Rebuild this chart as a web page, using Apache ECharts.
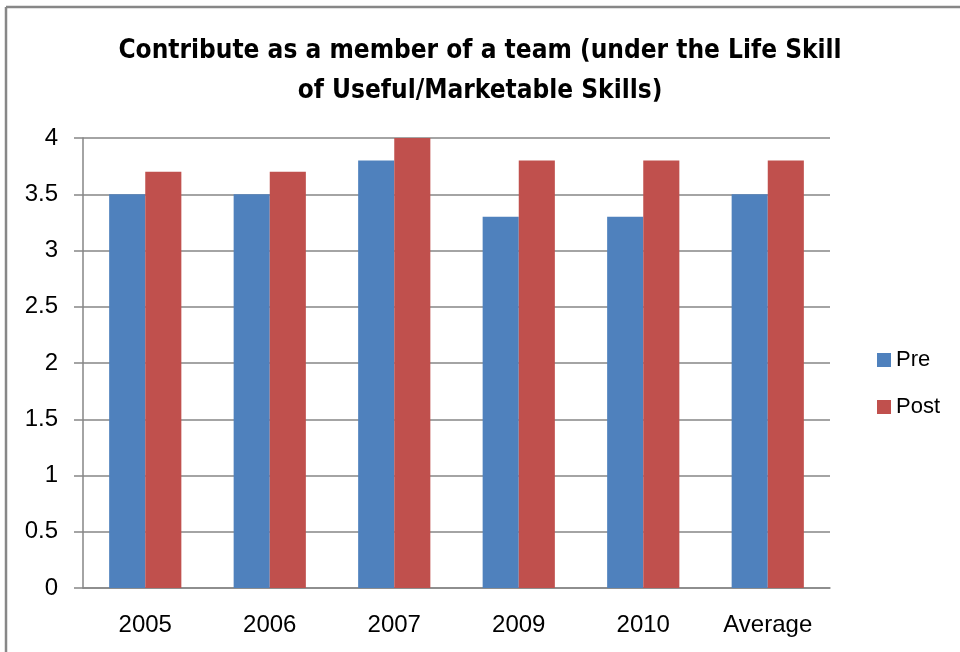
<!DOCTYPE html>
<html>
<head>
    <meta charset="utf-8">
    <title>Contribute as a member of a team</title>
    <script src="https://cdn.jsdelivr.net/npm/echarts@6.0.0/dist/echarts.min.js"></script>
    <style>
        html, body { margin: 0; padding: 0; background: #fff; }
        #chart { width: 960px; height: 652px; }
    </style>
</head>
<body>
    <div id="chart"></div>

    <script>
        // data
        const categories = ['2005', '2006', '2007', '2009', '2010', 'Average'];
        const preValues = [3.5, 3.5, 3.8, 3.3, 3.3, 3.5];
        const postValues = [3.7, 3.7, 4.0, 3.8, 3.8, 3.8];
        const titleText = 'Contribute as a member of a team (under the Life Skill\nof Useful/Marketable Skills)';

        const labelFont = '"Liberation Sans", Arial, sans-serif';
        const gridColor = '#868686';

        const myChart = echarts.init(document.getElementById('chart'));

        myChart.setOption({
            animation: false,
            backgroundColor: '#fff',
            title: {
                text: titleText,
                left: 'center',
                top: 26,
                textStyle: {
                    fontFamily: '"Liberation Sans Narrow", "DejaVu Sans Condensed", sans-serif',
                    fontWeight: 'bold',
                    fontSize: 26,
                    lineHeight: 40,
                    color: '#000'
                }
            },
            legend: {
                orient: 'vertical',
                left: 872,
                top: 344,
                itemWidth: 14,
                itemHeight: 14,
                itemGap: 25,
                icon: 'rect',
                textStyle: { fontFamily: labelFont, fontSize: 22, color: '#000' },
                data: ['Pre', 'Post']
            },
            grid: { left: 83, top: 138, right: 130, bottom: 64, containLabel: false },
            xAxis: {
                type: 'category',
                data: categories,
                axisLine: { lineStyle: { color: gridColor, width: 1.5 } },
                axisTick: { length: 9, lineStyle: { color: gridColor, width: 1.5 } },
                axisLabel: { fontFamily: labelFont, fontSize: 24, color: '#000', margin: 25 }
            },
            yAxis: {
                type: 'value',
                min: 0,
                max: 4,
                interval: 0.5,
                axisLine: { show: true, lineStyle: { color: gridColor, width: 1.5 } },
                axisTick: { show: true, length: 9, lineStyle: { color: gridColor, width: 1.5 } },
                axisLabel: { fontFamily: labelFont, fontSize: 24, color: '#000', margin: 25 },
                splitLine: { lineStyle: { color: gridColor, width: 1.5 } }
            },
            series: [
                {
                    name: 'Pre',
                    type: 'bar',
                    data: preValues,
                    barGap: '0%',
                    barCategoryGap: '42%',
                    itemStyle: { color: '#4F81BD' }
                },
                {
                    name: 'Post',
                    type: 'bar',
                    data: postValues,
                    barGap: '0%',
                    barCategoryGap: '42%',
                    itemStyle: { color: '#C0504D' }
                }
            ],
            graphic: [
                // outer frame, only top and left edges are visible in the picture
                { type: 'line', shape: { x1: 6, y1: 7, x2: 960, y2: 7 }, style: { stroke: '#878787', lineWidth: 2.5 } },
                { type: 'line', shape: { x1: 6, y1: 7, x2: 6, y2: 652 }, style: { stroke: '#878787', lineWidth: 2.5 } }
            ]
        });
    </script>
</body>
</html>
